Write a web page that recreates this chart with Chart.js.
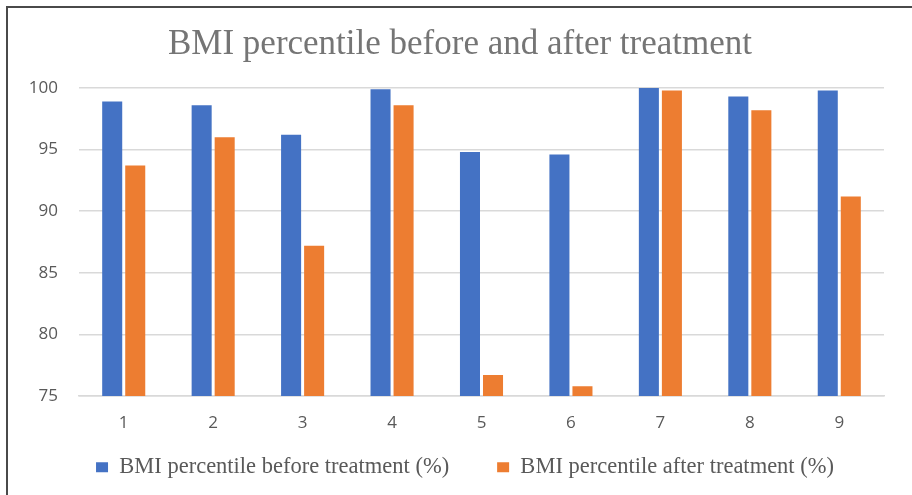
<!DOCTYPE html>
<html>
<head>
<meta charset="utf-8">
<script src="https://cdn.jsdelivr.net/npm/chart.js@4.4.1/dist/chart.umd.min.js"></script>
<style>
  html, body { margin: 0; padding: 0; background: #fff; }
  #wrap { position: relative; width: 912px; height: 495px; overflow: hidden; }
  #frame { position: absolute; left: 6px; top: 6px; width: 920px; height: 500px;
           border: 2px solid #4a4a4a; box-sizing: border-box; }
  canvas { position: absolute; left: 0; top: 0; }
</style>
</head>
<body>
<div id="wrap">
  <div id="frame"></div>
  <canvas id="grafico" width="912" height="495"></canvas>
</div>
<script>
/* ---------- datos ---------- */
const categorias = ["1", "2", "3", "4", "5", "6", "7", "8", "9"];
const antes   = [98.9, 98.6, 96.2, 99.9, 94.8, 94.6, 100, 99.3, 99.8];
const despues = [93.7, 96.0, 87.2, 98.6, 76.7, 75.8, 99.8, 98.2, 91.2];
const ticksY  = [75, 80, 85, 90, 95, 100];

const gris = "#595959";
const serif = "'Liberation Serif', 'Times New Roman', serif";

// leyenda: altura fija, subida y corrida a la derecha; titulo igual
const ajustes = {
  id: "ajustes",
  beforeInit(chart) {
    const fitOrig = chart.legend.fit;
    chart.legend.fit = function () {
      fitOrig.call(this);
      this.height = 54;
    };
  },
  afterLayout(chart) {
    const lg = chart.legend;
    lg.left += 23; lg.right += 23;
    lg.top -= 33;                 // el fondo queda igual, asi no se recorta
    lg.height = lg.bottom - lg.top;
    chart.titleBlock.left += 18;
    chart.titleBlock.right += 18;
  }
};

const ctx = document.getElementById("grafico").getContext("2d");

new Chart(ctx, {
  type: "bar",
  data: {
    labels: categorias,
    datasets: [
      {
        label: "BMI percentile before treatment (%)",
        data: antes,
        backgroundColor: "#4472C4",
        categoryPercentage: 0.515,
        barPercentage: 0.87
      },
      {
        label: "BMI percentile after treatment (%)",
        data: despues,
        backgroundColor: "#ED7D31",
        categoryPercentage: 0.515,
        barPercentage: 0.87
      }
    ]
  },
  plugins: [ajustes],
  options: {
    responsive: false,
    animation: false,
    layout: { padding: { left: 0, right: 28, top: 24, bottom: 0 } },
    plugins: {
      title: {
        display: true,
        text: "BMI percentile before and after treatment",
        color: "#757575",
        font: { family: serif, size: 35, weight: "normal", lineHeight: 1.2 },
        padding: { top: 0, bottom: 22 }
      },
      legend: {
        position: "bottom",
        labels: {
          color: gris,
          boxWidth: 12,
          boxHeight: 10,
          padding: 48,
          font: { family: serif, size: 22.5 }
        }
      },
      tooltip: { enabled: false }
    },
    scales: {
      x: {
        afterFit: (s) => { s.height = 45; },
        grid: { display: false, drawTicks: false },
        border: { color: "#d9d9d9", width: 1.5 },
        ticks: { color: gris, padding: 17, font: { family: "'Open Sans', sans-serif", size: 17 } }
      },
      y: {
        min: 75,
        max: 100,
        afterBuildTicks: (s) => { s.ticks = ticksY.map(v => ({ value: v })); },
        afterFit: (s) => { s.width = 79; },
        grid: { color: "#d9d9d9", lineWidth: 1.5, drawTicks: false },
        border: { display: false },
        ticks: { color: gris, padding: 21, font: { family: "'Open Sans', sans-serif", size: 17 } }
      }
    }
  }
});
</script>
</body>
</html>
